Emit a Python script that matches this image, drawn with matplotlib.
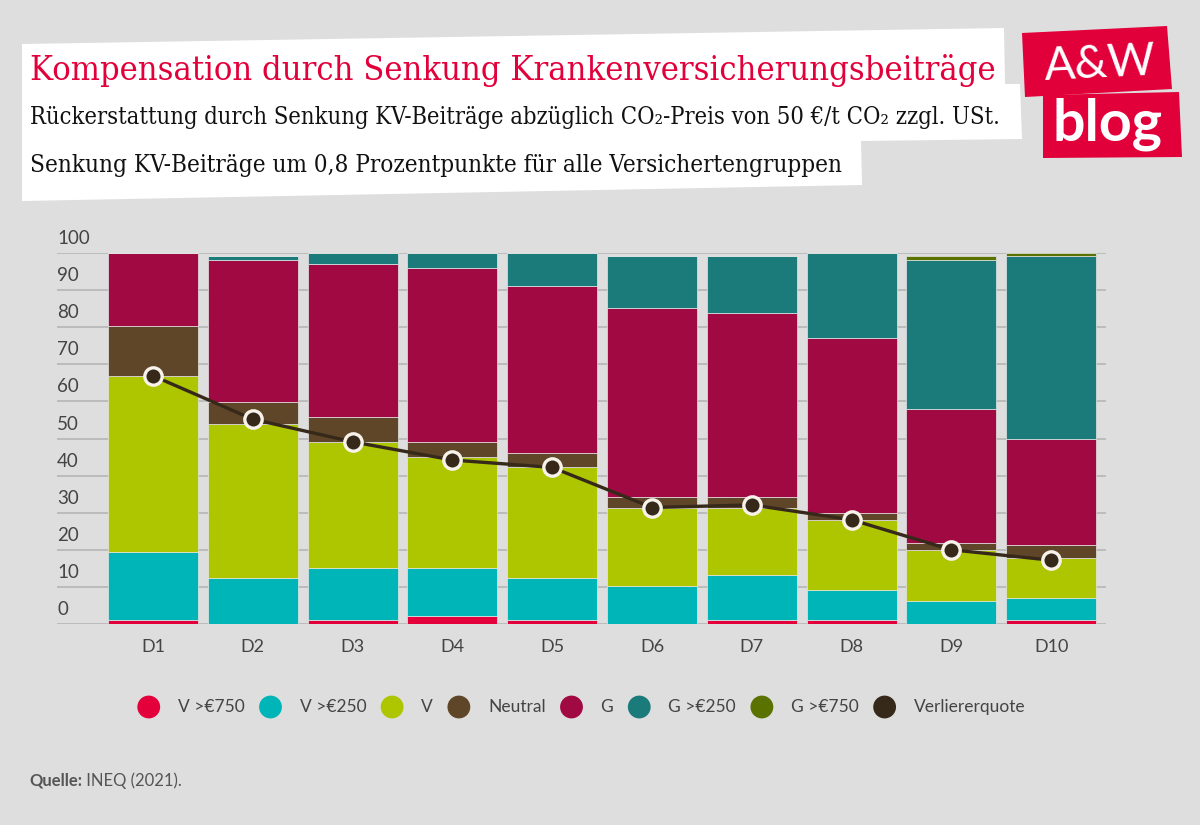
import numpy as np
import matplotlib
matplotlib.use('Agg')
import matplotlib.pyplot as plt
from matplotlib import font_manager
from matplotlib.patches import Polygon
from matplotlib.transforms import blended_transform_factory, offset_copy

# Daten (Anteile in %, je Dezil)
dezile = ['D1', 'D2', 'D3', 'D4', 'D5', 'D6', 'D7', 'D8', 'D9', 'D10']
v750 = [1.0, 0.0, 1.0, 2.2, 1.0, 0.0, 1.0, 1.0, 0.0, 1.0]
v250 = [18.3, 12.3, 14.2, 13.0, 11.3, 10.3, 12.1, 8.1, 6.3, 6.1]
v = [47.6, 41.7, 33.9, 29.8, 29.9, 21.0, 18.2, 19.0, 13.7, 10.8]
neutral = [13.3, 5.9, 6.8, 4.1, 4.0, 2.8, 2.8, 1.9, 1.9, 3.3]
g = [19.8, 38.1, 41.2, 46.9, 44.9, 51.0, 49.8, 47.0, 36.0, 28.7]
g250 = [0.0, 1.2, 2.9, 4.0, 8.9, 14.1, 15.3, 23.0, 40.1, 49.3]
g750 = [0.0, 0.0, 0.0, 0.0, 0.0, 0.0, 0.0, 0.0, 1.2, 0.8]
verliererquote = [66.9, 55.2, 49.1, 44.2, 42.2, 31.4, 32.1, 28.1, 20.0, 17.2]

serien = [v750, v250, v, neutral, g, g250, g750]
namen = ['V >€750', 'V >€250', 'V', 'Neutral', 'G', 'G >€250', 'G >€750', 'Verliererquote']
farben = ['#e4003a', '#00b5b8', '#adc600', '#5f4628', '#a00942', '#1b7b7a', '#5a7300', '#36291a']

bg = '#dedede'
rot = '#e2003b'
SANS = ['Lato', 'DejaVu Sans']
SERIF = ['DejaVu Serif']
# schmale Serifenschrift, falls vorhanden
stretch = 'normal'
try:
    f = font_manager.findfont(font_manager.FontProperties(family='DejaVu Serif', stretch='condensed'),
                              fallback_to_default=False)
    if 'Condensed' in f:
        stretch = 'condensed'
except Exception:
    pass

fig = plt.figure(figsize=(12, 8.25), dpi=100, facecolor=bg)
renderer = fig.canvas.get_renderer()

# Hintergrund-Achse in Pixelkoordinaten (für Titel, Logo, Legende)
ax0 = fig.add_axes([0, 0, 1, 1], zorder=0)
ax0.set_xlim(0, 1200)
ax0.set_ylim(825, 0)
ax0.axis('off')


def fit(t, breite):
    # Schriftgröße so anpassen, dass der Text die gewünschte Breite hat
    w = t.get_window_extent(renderer=renderer).width
    t.set_fontsize(t.get_fontsize() * breite / w)


# weißer Kasten hinter dem Titel
ax0.add_patch(Polygon([(22, 44), (1004, 28), (1005, 84), (1020, 84), (1022, 139),
                       (861, 141), (862, 185), (22, 201)], closed=True,
                      facecolor='white', edgecolor='none'))

t1 = ax0.text(30, 80, 'Kompensation durch Senkung Krankenversicherungsbeiträge',
              color=rot, family=SERIF, fontstretch=stretch, fontsize=22, va='baseline', ha='left')
fit(t1, 962)
t2 = ax0.text(30, 124, 'Rückerstattung durch Senkung KV-Beiträge abzüglich CO₂-Preis von 50 €/t CO₂ zzgl. USt.',
              color='#111111', family=SERIF, fontstretch=stretch, fontsize=16, va='baseline', ha='left')
fit(t2, 976)
t3 = ax0.text(30, 172, 'Senkung KV-Beiträge um 0,8 Prozentpunkte für alle Versichertengruppen',
              color='#111111', family=SERIF, fontstretch=stretch, fontsize=16, va='baseline', ha='left')
fit(t3, 816)

# Logo
ax0.add_patch(Polygon([(1022, 33), (1167, 26), (1172, 89), (1025, 97)], closed=True,
                      facecolor=rot, edgecolor='none'))
ax0.add_patch(Polygon([(1043, 95), (1179, 92), (1182, 157), (1043, 158)], closed=True,
                      facecolor=rot, edgecolor='none'))
l1 = ax0.text(1100, 64, 'A&W', color='white', family=SANS, fontweight='normal',
              fontsize=34, ha='center', va='center', rotation=2.8)
fit(l1, 114)
l2 = ax0.text(1108, 124, 'blog', color='white', family=SANS, fontweight='bold',
              fontsize=38, ha='center', va='center')
fit(l2, 110)

# Diagramm
ax = fig.add_axes([57 / 1200, (825 - 624) / 825, (1106 - 57) / 1200, 371 / 825], zorder=1)
ax.set_facecolor('none')
x = np.arange(len(dezile))
ax.set_xlim(-0.962, 9.549)
ax.set_ylim(0, 100)

unten = np.zeros(len(dezile))
for werte, farbe in zip(serien, farben):
    ax.bar(x, werte, bottom=unten, width=0.9, color=farbe, edgecolor='#e6e6e6',
           linewidth=0.5, zorder=2)
    unten += np.array(werte)

ax.plot(x, verliererquote, color=farben[-1], lw=2.4, zorder=3, marker='o',
        markersize=12.5, markerfacecolor=farben[-1], markeredgecolor='#f7f3ea',
        markeredgewidth=2.4, clip_on=False)

ax.set_yticks(range(0, 101, 10))
ax.yaxis.grid(True, color='#b9b9b9', lw=1.3)
ax.set_axisbelow(True)
ax.tick_params(axis='y', length=0, labelleft=False)
for s in ax.spines.values():
    s.set_visible(False)

trans = offset_copy(blended_transform_factory(ax.transAxes, ax.transData),
                    fig=fig, x=0, y=6, units='dots')
for yt in range(0, 101, 10):
    ax.text(0, yt, str(yt), transform=trans, ha='left', va='bottom',
            family=SANS, fontsize=13.5, color='#444444')

ax.set_xticks(x, dezile)
ax.tick_params(axis='x', length=0, pad=11, labelsize=13, labelcolor='#444444')
for lab in ax.get_xticklabels():
    lab.set_family(SANS)

# Legende von Hand, mittig unter dem Diagramm
leg_y = 707
texte = []
for name in namen:
    texte.append(ax0.text(0, leg_y, name, family=SANS, fontsize=12.5, color='#444444',
                          ha='left', va='center'))
breiten = [t.get_window_extent(renderer=renderer).width for t in texte]
abstand_text = 29   # Kreis-Mitte bis Textanfang
abstand_next = 26   # Textende bis nächste Kreis-Mitte
gesamt = 11 + sum(breiten) + abstand_text * len(breiten) + abstand_next * (len(breiten) - 1)
pos = (57 + 1106) / 2 - gesamt / 2 + 11
for t, b, farbe in zip(texte, breiten, farben):
    ax0.scatter(pos, leg_y, s=270, color=farbe, edgecolor='none')
    t.set_x(pos + abstand_text)
    pos = pos + abstand_text + b + abstand_next

# Quelle
q = ax0.text(29, 781, 'Quelle:', family=SANS, fontweight='bold', fontsize=12,
             color='#555555', ha='left', va='center')
ax0.annotate(' INEQ (2021).', xy=(1, 0.5), xycoords=q, family=SANS, fontsize=12,
             color='#555555', ha='left', va='center')

fig.savefig('out.png', dpi=100, facecolor=bg)
